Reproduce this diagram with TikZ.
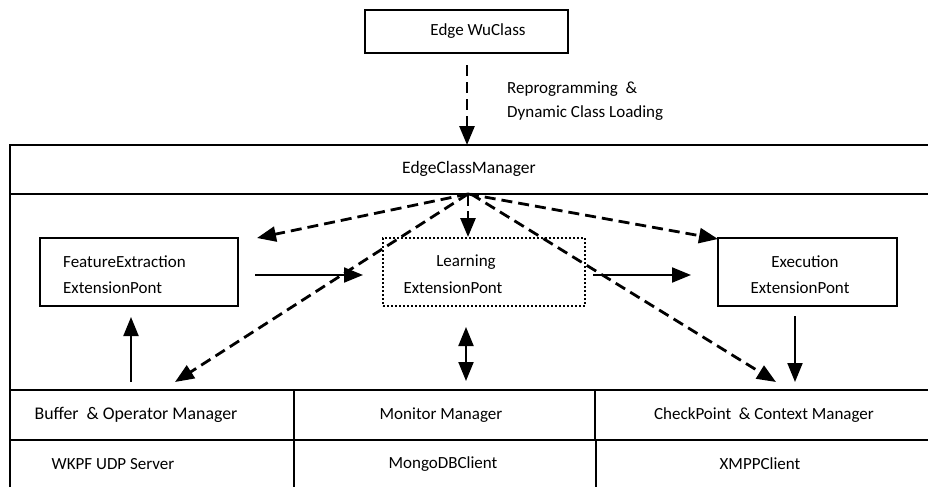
\documentclass[tikz,border=0pt]{standalone}
\usepackage{fontspec}
\setmainfont{Carlito}
\usetikzlibrary{arrows.meta}
\begin{document}
\begin{tikzpicture}[x=1pt,y=-1pt,
  every node/.style={font=\fontsize{17}{20}\selectfont, inner sep=0pt},
  frame/.style={draw, line width=1.9pt},
  lbl/.style={anchor=center},
  tip/.style={-{Triangle[length=19pt,width=15pt]}},
  solidarr/.style={line width=2pt, tip},
  dasharr/.style={line width=2.8pt, dash pattern=on 11pt off 6pt, tip},
  boxn/.style={draw, line width=1.9pt, minimum width=#1, minimum height=68pt},
]
\useasboundingbox (0,0) rectangle (928,487);
% top box
\node[draw, line width=1.9pt, minimum width=203pt, minimum height=43pt] (wu) at (466.5,31.5) {};
\node[lbl] (wut) at (478,31.5) {Edge WuClass};
\node[anchor=west] (rep) at (507,89) {Reprogramming~~\&};
\node[anchor=west] (dyn) at (507,113) {Dynamic Class Loading};
% outer frame
\draw[frame] (10,487) -- (10,145) -- (928,145);
\draw[frame] (10,194) -- (928,194);
\draw[frame] (10,390) -- (928,390);
\draw[frame] (10,440) -- (928,440);
\draw[frame] (294,390) -- (294,487);
\draw[frame] (595,390) -- (595,440);
\draw[line width=2.4pt] (596,440) -- (596,487);
\coordinate (ecmtop) at (467,145);
\node[lbl, font=\fontsize{17.5}{20}\selectfont] (ecm) at (469,169) {EdgeClassManager};
% extension boxes
\node[boxn=198pt] (fe) at (139,272) {};
\node[anchor=west] at (63,262) {FeatureExtraction};
\node[anchor=west] at (63,288) {ExtensionPont};
\node[draw, line width=2pt, dotted, minimum width=202pt, minimum height=68pt] (le) at (484,272) {};
\node[lbl] at (466,262) {Learning};
\node[lbl] at (453,288) {ExtensionPont};
\node[boxn=179pt] (ex) at (807.5,272) {};
\node[lbl] at (805,262) {Execution};
\node[lbl] at (800,288) {ExtensionPont};
% bottom cells
\node[lbl, font=\fontsize{17.8}{20}\selectfont] (buf) at (136,415) {Buffer~~\& Operator Manager};
\node[lbl] (mon) at (441,415) {Monitor Manager};
\node[lbl] (chk) at (764,415) {CheckPoint~~\& Context Manager};
\node[lbl] (wk) at (113,464) {WKPF UDP Server};
\node[lbl] (mg) at (443,464) {MongoDBClient};
\node[lbl] (xm) at (760,464) {XMPPClient};
% coordinates for connectors
\coordinate (src) at (468,194);
\coordinate (src2) at (471,194);
\coordinate (wuout) at (467,65);
\coordinate (fetip) at (257,238);
\coordinate (extip) at (718,239);
\coordinate (letip) at (468,237);
\coordinate (buftip) at (175,382);
\coordinate (chktip) at (776,382);
\coordinate (fe1) at (255,275);
\coordinate (le1) at (363,275);
\coordinate (le2) at (593,275);
\coordinate (ex1) at (691,275);
\coordinate (bufup) at (131,382);
\coordinate (feup) at (131,317);
\coordinate (monA) at (466,327);
\coordinate (monB) at (466,381);
\coordinate (exdn) at (795,316);
\coordinate (chkdn) at (795,382);
% connectors
\draw[dasharr] (wuout) -- (ecmtop);
\draw[dasharr] (src) -- (fetip);
\draw[dasharr] (src) -- (extip);
\draw[dasharr, dash pattern=on 12pt off 5pt] (src) -- (letip);
\draw[dasharr] (src) -- (buftip);
\draw[dasharr] (src2) -- (chktip);
\draw[solidarr] (fe1) -- (le1);
\draw[solidarr] (le2) -- (ex1);
\draw[solidarr] (bufup) -- (feup);
\draw[line width=2pt, {Triangle[length=19pt,width=15pt]}-{Triangle[length=19pt,width=15pt]}] (monA) -- (monB);
\draw[solidarr] (exdn) -- (chkdn);
\end{tikzpicture}
\end{document}
